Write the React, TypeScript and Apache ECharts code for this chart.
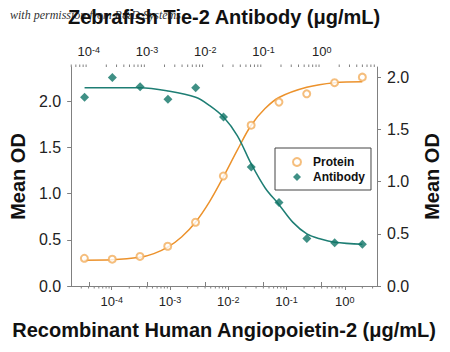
import React, { useEffect, useRef } from 'react';
import * as echarts from 'echarts';

// Measured points (3-fold dilutions)
const proteinConc = [0.0000339, 0.000102, 0.000305, 0.000914, 0.00274, 0.00823, 0.0247, 0.0741, 0.222, 0.667, 2];
const proteinOD = [0.30, 0.29, 0.32, 0.43, 0.69, 1.19, 1.74, 1.99, 2.08, 2.20, 2.26];
const antibodyConc = [0.0000847, 0.000254, 0.000762, 0.00229, 0.00686, 0.0206, 0.0617, 0.185, 0.556, 1.67, 5];
const antibodyOD = [1.81, 2.00, 1.91, 1.79, 1.90, 1.62, 1.14, 0.80, 0.455, 0.414, 0.40];

// Fitted curves
const proteinFitConc = [0.0000339, 0.000102, 0.000305, 0.000528, 0.000914, 0.00158, 0.00274, 0.00475, 0.00823, 0.0143, 0.0247, 0.0428, 0.0741, 0.222, 0.667, 2];
const proteinFitOD = [0.28, 0.284, 0.31, 0.35, 0.42, 0.53, 0.69, 0.91, 1.18, 1.47, 1.74, 1.92, 2.04, 2.15, 2.20, 2.21];
const antibodyFitConc = [0.0000847, 0.000254, 0.000762, 0.00229, 0.00686, 0.0119, 0.0206, 0.0357, 0.0617, 0.107, 0.185, 0.321, 0.556, 0.962, 1.67, 5];
const antibodyFitOD = [1.90, 1.90, 1.90, 1.87, 1.81, 1.73, 1.62, 1.44, 1.17, 0.94, 0.78, 0.61, 0.50, 0.45, 0.42, 0.40];

// Axis settings
const bottomRange = [2.01e-5, 3.57];
const topRange = [4.98e-5, 8.91];
const leftRange = [0, 2.37];
const rightRange = [0, 2.1];
const tickExponents = [-5, -4, -3, -2, -1, 0, 1];
const minorMultipliers = [2, 3, 4, 5, 6, 7, 8, 9];

const FONT = '"Liberation Sans", Arial, Helvetica, sans-serif';
const AXIS_COLOR = '#808080';
const LABEL_COLOR = '#222';

function minorTicks(range: number[]) {
  const out: number[][] = [];
  tickExponents.forEach((e) => {
    minorMultipliers.forEach((m) => {
      const v = m * Math.pow(10, e);
      if (v > range[0] && v < range[1]) out.push([v, 1]);
    });
  });
  return out;
}

function logLabel(v: number) {
  const e = Math.round(Math.log10(v));
  return `{b|10}{s|${e}}`;
}

const logRich = {
  b: { fontSize: 13, color: LABEL_COLOR, fontFamily: FONT },
  s: { fontSize: 9, color: LABEL_COLOR, fontFamily: FONT, verticalAlign: 'top' },
};

export default function App() {
  const ref = useRef<HTMLDivElement>(null);
  useEffect(() => {
    document.body.style.margin = '0';
    const chart = echarts.init(ref.current!, undefined, { renderer: 'svg' });
    const tickSeries = (xIdx: number, yIdx: number, range: number[], top: boolean) => ({
      type: 'custom',
      silent: true,
      xAxisIndex: xIdx,
      yAxisIndex: yIdx,
      data: minorTicks(range),
      renderItem: (params: any, api: any) => {
        const x = api.coord([api.value(0), api.value(1)])[0];
        const cs = params.coordSys;
        const y0 = top ? cs.y : cs.y + cs.height;
        const y1 = top ? y0 - 2.5 : y0 + 2.5;
        return {
          type: 'line',
          shape: { x1: x, y1: y0, x2: x, y2: y1 },
          style: { stroke: AXIS_COLOR, lineWidth: 1 },
        };
      },
    });
    const yAxisBase = (range: number[], pos: string) => ({
      type: 'value',
      position: pos,
      min: range[0],
      max: range[1],
      interval: 0.5,
      axisLine: { show: true, lineStyle: { color: AXIS_COLOR, width: 1 } },
      axisTick: { show: true, length: 4, lineStyle: { color: AXIS_COLOR } },
      axisLabel: {
        formatter: (v: number) => v.toFixed(1),
        showMaxLabel: false,
        fontSize: 16,
        color: LABEL_COLOR,
        fontFamily: FONT,
        margin: 10,
      },
      splitLine: { show: false },
      name: 'Mean OD',
      nameLocation: 'middle',
      nameGap: pos === 'left' ? 41 : 45,
      nameTextStyle: {
        fontSize: 20,
        fontWeight: 'bold',
        color: '#111',
        fontFamily: FONT,
      },
    });
    const xAxisBase = (range: number[], pos: string, name: string, gap: number) => ({
      type: 'log',
      logBase: 10,
      position: pos,
      min: range[0],
      max: range[1],
      axisLine: { show: true, lineStyle: { color: AXIS_COLOR, width: 1 } },
      axisTick: { show: true, length: 4, lineStyle: { color: AXIS_COLOR } },
      axisLabel: {
        formatter: logLabel,
        rich: logRich,
        showMinLabel: false,
        showMaxLabel: false,
        margin: 9,
      },
      splitLine: { show: false },
      minorTick: { show: false },
      name,
      nameLocation: 'middle',
      nameGap: gap,
      nameTextStyle: { fontSize: 20, fontWeight: 'bold', color: '#111', fontFamily: FONT },
      z: 3,
    });
    chart.setOption({
      animation: false,
      backgroundColor: '#fff',
      grid: { left: 69, top: 67, width: 313, height: 219, containLabel: false },
      xAxis: [
        xAxisBase(bottomRange, 'bottom', 'Recombinant Human Angiopoietin-2 (μg/mL)', 34),
        xAxisBase(topRange, 'top', 'Zebrafish Tie-2 Antibody (μg/mL)', 40),
      ],
      yAxis: [yAxisBase(leftRange, 'left'), yAxisBase(rightRange, 'right')],
      legend: {
        data: [
          { name: 'Protein', icon: 'emptyCircle' },
          { name: 'Antibody', icon: 'diamond' },
        ],
        orient: 'vertical',
        left: 275,
        top: 148,
        padding: [8, 6, 7, 17],
        itemWidth: 8,
        itemHeight: 8,
        itemGap: 3,
        borderColor: '#444',
        borderWidth: 1,
        backgroundColor: '#fff',
        textStyle: { fontWeight: 'bold', fontSize: 12, color: '#111', fontFamily: FONT, padding: [0, 0, 0, 7] },
      },
      graphic: [
        {
          type: 'text',
          left: 10,
          top: 9,
          z: -10,
          style: {
            text: 'with permission from R&D Systems',
            font: 'italic 12px "Liberation Serif", "Times New Roman", serif',
            fill: '#333',
          },
        },
      ],
      series: [
        {
          name: 'Protein fit',
          type: 'line',
          xAxisIndex: 0,
          yAxisIndex: 0,
          data: proteinFitConc.map((c, i) => [c, proteinFitOD[i]]),
          smooth: 0.35,
          showSymbol: false,
          silent: true,
          lineStyle: { color: '#EC922C', width: 1.5 },
          z: 2,
        },
        {
          name: 'Antibody fit',
          type: 'line',
          xAxisIndex: 1,
          yAxisIndex: 1,
          data: antibodyFitConc.map((c, i) => [c, antibodyFitOD[i]]),
          smooth: 0.35,
          showSymbol: false,
          silent: true,
          lineStyle: { color: '#1E7E74', width: 1.5 },
          z: 2,
        },
        {
          name: 'Protein',
          type: 'scatter',
          xAxisIndex: 0,
          yAxisIndex: 0,
          data: proteinConc.map((c, i) => [c, proteinOD[i]]),
          symbol: 'emptyCircle',
          symbolSize: 7,
          itemStyle: { color: '#F2AE5C', borderWidth: 1 },
          z: 3,
        },
        {
          name: 'Antibody',
          type: 'scatter',
          xAxisIndex: 1,
          yAxisIndex: 1,
          data: antibodyConc.map((c, i) => [c, antibodyOD[i]]),
          symbol: 'diamond',
          symbolSize: 9,
          itemStyle: { color: '#0F7466' },
          z: 3,
        },
        tickSeries(0, 0, bottomRange, false),
        tickSeries(1, 0, topRange, true),
      ],
    } as any);
    return () => chart.dispose();
  }, []);
  return <div ref={ref} style={{ width: 450, height: 352 }} />;
}
